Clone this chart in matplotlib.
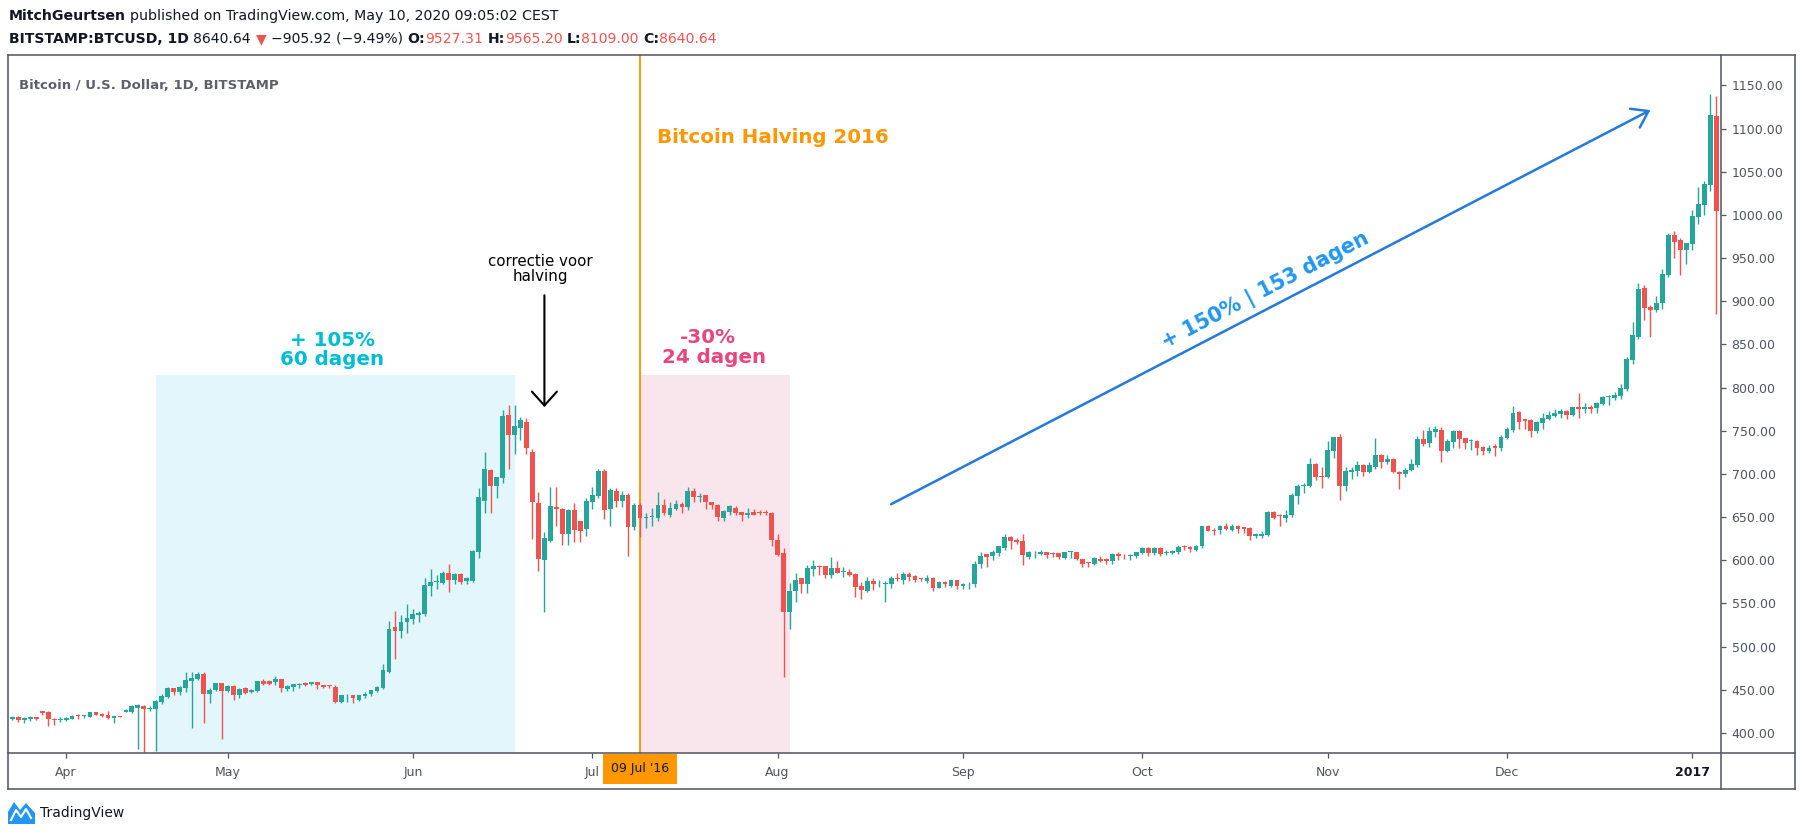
import numpy as np
import pandas as pd
import matplotlib
matplotlib.use('Agg')
import matplotlib.pyplot as plt
from matplotlib.lines import Line2D
from matplotlib.patches import Polygon

# [1] BTCUSD daily candles (Bitstamp), 26 Mar 2016 - 5 Jan 2017
start_date = '2016-03-26'

opens = [416, 418.5, 415.5, 416, 418.5, 425.5, 424.5, 416, 414.5, 415,
         416.5, 421, 419.5, 418.5, 424.5, 422.5, 421, 417.5, 419.5, 424.5,
         424.5, 429.5, 431.5, 428, 428, 436, 442, 452, 448, 452.5,
         460.5, 463, 468.5, 445.5, 450, 458, 448.5, 454.5, 444.5, 452,
         448, 448.5, 460, 460, 458.5, 462.5, 451.5, 453, 456, 458,
         456.5, 459, 455.5, 454.5, 453, 436, 443.5, 444, 438, 443,
         445, 449, 452.5, 471, 522.5, 518.5, 528, 532, 537, 538,
         570.5, 574.5, 574, 585.5, 577.5, 584, 576, 576.5, 610, 669,
         704.5, 685.5, 695.5, 768.5, 745, 753.5, 760, 725.5, 666, 600.5,
         622.5, 662, 660, 631, 658, 645.5, 636.5, 667.5, 675, 703.5,
         660, 680.5, 669, 675.5, 639, 664, 649, 650, 649.5, 664,
         652.5, 660, 665.5, 662, 680.5, 673, 675.5, 667.5, 664, 648.5,
         656.5, 660.5, 656, 652, 656, 655.5, 655, 655, 623.5, 608.5,
         540.5, 564.5, 579, 573, 590.5, 593.5, 593.5, 583.5, 591, 586.5,
         586.5, 584, 570, 564.5, 576, 572, 572, 573, 578.5, 577,
         584, 582, 578.5, 576, 580, 568.5, 575, 570, 577, 570.5,
         572, 572, 595.5, 607, 605, 608.5, 614, 627.5, 623.5, 622,
         604, 608, 607.5, 609.5, 607.5, 608.5, 603, 609.5, 609.5, 601.5,
         597, 596, 602, 602, 599.5, 607.5, 605, 604.5, 605, 608.5,
         614.5, 608.5, 614.5, 608.5, 608.5, 609.5, 615.5, 615.5, 612.5, 617,
         640, 635, 635.5, 640, 635.5, 640, 638.5, 637.5, 628.5, 628.5,
         629.5, 656, 651.5, 649.5, 652, 675, 685.5, 686, 711.5, 697,
         697, 727, 743, 685.5, 702.5, 703.5, 710.5, 702.5, 708, 722,
         714, 717.5, 702.5, 700, 704.5, 710.5, 740.5, 736, 748.5, 751,
         726.5, 737, 750, 741.5, 738, 738, 731, 726.5, 732.5, 730,
         741.5, 751, 772, 763.5, 762.5, 750, 759, 763.5, 767, 769.5,
         773, 768.5, 777.5, 775, 777.5, 776.5, 781, 789, 788, 790.5,
         798.5, 832, 858.5, 915.5, 893.5, 890, 898, 930.5, 977, 971,
         959.5, 966.5, 997.5, 1011.5, 1035, 1114.5]

highs = [420, 420, 418.5, 419.5, 419, 426, 425.5, 417.5, 418, 418.5,
         420.5, 421.5, 421, 424.5, 424.5, 423, 425.5, 420, 419.5, 427.5,
         432, 433.5, 432, 431, 438, 445, 453.5, 452.5, 454, 470.5,
         470.5, 470.5, 470.5, 452, 458, 458, 455, 455.5, 452, 453,
         451, 460.5, 462.5, 461, 466, 463, 455, 456.5, 458, 459,
         459, 459.5, 456, 455.5, 455, 444.5, 445, 444.5, 444.5, 447.5,
         450, 454, 479.5, 529.5, 541.5, 536.5, 549.5, 543.5, 541, 579.5,
         590, 583.5, 587.5, 596, 585.5, 585, 581, 612, 683.5, 725.5,
         705.5, 697, 774, 780, 780, 766, 765, 729, 679, 633,
         685, 685, 661, 659, 666.5, 645.5, 672.5, 685, 706, 706,
         683.5, 683.5, 680.5, 678, 666.5, 666.5, 655, 660.5, 679, 671,
         667, 670, 667.5, 685, 683.5, 677.5, 676, 668, 665, 658,
         664, 663, 656.5, 660.5, 659, 658, 658, 656, 630, 614,
         573.5, 585, 579.5, 595, 600.5, 594.5, 593.5, 603.5, 599, 592,
         590.5, 585, 575, 580.5, 579, 577, 576, 582, 585.5, 587,
         586.5, 582.5, 580, 583, 580.5, 575.5, 575.5, 577.5, 577.5, 573.5,
         575, 599, 609.5, 607.5, 612, 617, 630.5, 628, 626, 630.5,
         611, 610.5, 611.5, 610, 609.5, 609, 610, 611, 610, 602,
         598.5, 604, 605, 602.5, 609, 609.5, 607.5, 607, 610, 615.5,
         615, 615, 615, 612.5, 612, 618, 618, 616, 617.5, 640,
         640.5, 637, 640.5, 643, 641.5, 640.5, 639, 638, 631.5, 634,
         657, 657, 654, 658, 678, 688, 689, 718, 713, 707.5,
         738, 743, 746.5, 708, 708, 715, 711, 713.5, 741.5, 723,
         722, 718, 703.5, 707, 717.5, 744, 751, 754.5, 755.5, 754.5,
         741, 751, 751, 742, 740, 739, 732.5, 733.5, 734.5, 745,
         754.5, 778.5, 773, 764, 763.5, 761.5, 770.5, 773, 775, 775,
         774, 778, 794, 782, 780, 783.5, 790.5, 791.5, 795, 804.5,
         835.5, 876, 921.5, 919, 896, 906, 937.5, 979, 981.5, 973,
         968, 1006, 1032.5, 1039.5, 1140, 1138]

lows = [414.5, 413, 412, 414, 415.5, 421, 407.5, 409.5, 412.5, 414,
        416, 416.5, 417, 418, 420.5, 419, 416.5, 412, 419, 424,
        423, 381.5, 378, 425.5, 379.5, 434, 441, 443.5, 444.5, 447.5,
        406, 461, 411, 435, 449, 393.5, 447, 438.5, 440.5, 445.5,
        446.5, 448, 455.5, 456, 455.5, 448, 449, 449, 452.5, 454,
        455, 451.5, 452, 452.5, 435, 435, 436, 435, 437, 441,
        443, 447, 450.5, 469, 485.5, 510.5, 515.5, 526, 529, 535.5,
        559, 566.5, 572, 563.5, 572, 573, 572, 575, 603, 655,
        655, 672.5, 690, 706, 723, 739.5, 723, 625, 588, 540.5,
        621.5, 640, 618, 618, 621.5, 621.5, 628, 660, 672.5, 647.5,
        640, 662, 662, 605.5, 635.5, 626.5, 637, 640, 646, 652,
        650.5, 658, 655, 658.5, 667, 667, 660, 660, 645, 646,
        653, 653, 645, 649.5, 652, 653, 652.5, 616, 605, 465,
        521, 552, 562.5, 562.5, 582, 583, 580, 580, 585, 581,
        582, 557, 555.5, 563, 565.5, 569.5, 552, 568.5, 576, 573,
        576.5, 575, 576, 574, 564.5, 567.5, 569.5, 569, 567, 566.5,
        566.5, 569.5, 591.5, 592.5, 600.5, 605, 612, 613, 619, 594.5,
        601.5, 603, 606, 603, 604, 601.5, 602, 603, 600, 592.5,
        592.5, 594, 598.5, 596, 596, 600.5, 602, 600.5, 603, 607,
        605.5, 606.5, 605.5, 606.5, 607.5, 607, 612.5, 610, 611, 614.5,
        634, 629.5, 630.5, 635, 634, 632, 632, 624, 625.5, 626,
        628.5, 648, 640, 644, 650, 665.5, 677.5, 684.5, 692.5, 684,
        695, 718, 670, 680.5, 694, 698, 697.5, 701, 705.5, 707,
        711.5, 701, 682.5, 697, 703.5, 708.5, 732.5, 731, 743, 714,
        725, 730, 730, 729, 728, 722, 722, 724.5, 721, 726.5,
        740.5, 749, 752, 752, 743, 747.5, 752, 762, 766, 765,
        763.5, 767, 765, 770.5, 770.5, 770.5, 780, 780, 786, 787,
        796, 827.5, 856, 878.5, 859, 887.5, 891, 928, 950, 930.5,
        943.5, 960, 989.5, 1000, 1028, 885.5]

closes = [418.5, 415, 417, 418.5, 416, 423, 416.5, 414.5, 416.5, 417.5,
          420, 419.5, 420, 424.5, 421, 419.5, 417.5, 419.5, 419, 426.5,
          431.5, 432.5, 428, 428.5, 437.5, 443, 452, 448, 453.5, 461.5,
          463.5, 468.5, 445.5, 450, 458, 449, 454.5, 444.5, 451.5, 446.5,
          450, 460, 457, 457, 462.5, 452.5, 454.5, 456.5, 456.5, 455,
          459, 455, 453, 454, 436, 444, 444, 440, 444, 445,
          450, 453.5, 473, 520.5, 518.5, 528.5, 533, 538, 539.5, 571.5,
          575, 574.5, 585.5, 577.5, 584, 575, 579.5, 611, 673.5, 705.5,
          685.5, 696.5, 767, 745, 755.5, 762.5, 730.5, 668, 602, 625.5,
          663, 660, 631, 658, 635, 634.5, 668.5, 675.5, 703.5, 658.5,
          681, 669, 675.5, 639, 663.5, 648.5, 650, 650.5, 664, 655,
          660.5, 665.5, 662, 680.5, 673, 674.5, 667, 664, 650.5, 657,
          663, 655, 652, 655, 653, 655, 654.5, 624, 606, 540.5,
          564.5, 577, 573, 591, 593.5, 592.5, 583.5, 591, 585.5, 586.5,
          583, 569.5, 565.5, 576, 572, 572, 573.5, 579.5, 578, 584,
          581, 577, 578, 579.5, 568.5, 575, 572, 577, 570, 572.5,
          572.5, 595.5, 605, 604, 610, 616.5, 627.5, 622.5, 621, 606,
          609.5, 608.5, 610, 606.5, 607, 604, 609.5, 610, 601, 596,
          596.5, 602.5, 599.5, 599.5, 607.5, 604.5, 604.5, 606.5, 609.5, 614.5,
          609, 614.5, 607.5, 609.5, 611, 615.5, 615, 613, 616.5, 640,
          634.5, 634.5, 640, 636.5, 640, 636.5, 636.5, 628.5, 630.5, 630.5,
          656, 649.5, 651, 652.5, 675.5, 686, 687.5, 711.5, 697, 696.5,
          728, 743, 685.5, 703.5, 704.5, 710.5, 702.5, 710.5, 722, 714,
          717.5, 702.5, 700, 704.5, 711.5, 740.5, 734.5, 750, 752, 726.5,
          738, 750, 740.5, 736, 738, 730, 726.5, 730, 730, 743,
          752, 770.5, 760, 761.5, 750, 760, 765, 768.5, 770.5, 773,
          768.5, 777.5, 775, 777.5, 775, 782.5, 789, 789.5, 791.5, 799.5,
          833, 861, 914.5, 892.5, 890, 898, 931.5, 977, 969, 959.5,
          967.5, 999, 1013, 1036, 1116, 1004.5]

# [2] Axis labels
month_ticks = ['2016-04-04', '2016-05-01', '2016-06-01', '2016-07-01', '2016-08-01',
               '2016-09-01', '2016-10-01', '2016-11-01', '2016-12-01', '2017-01-01']
month_labels = ['Apr', 'May', 'Jun', 'Jul', 'Aug', 'Sep', 'Oct', 'Nov', 'Dec', '2017']
price_ticks = list(range(400, 1151, 50))

# [3] Drawings on the chart
halving_date = '2016-07-09'
rise_box = ('2016-04-19', '2016-06-18', 815)
drop_box = ('2016-07-09', '2016-08-03', 815)
trend_arrow = (('2016-08-20', 665), ('2016-12-25', 1121.5))

GREEN = '#26a69a'
RED = '#ef5350'
GREY = '#50535e'
DARK = '#131722'

W, H = 1805, 836
start = pd.Timestamp(start_date)


def day(d):
    return (pd.Timestamp(d) - start).days


def fx(px):
    return px / W


def fy(py):
    return 1 - py / H


fig = plt.figure(figsize=(W / 100, H / 100), dpi=100)
fig.patch.set_facecolor('white')
ax = fig.add_axes([fx(8), fy(753), (1721 - 8) / W, (753 - 55) / H])
ax.set_xlim(-0.72, 285.8)
ax.set_ylim(376.8, 1185.3)
for s in ax.spines.values():
    s.set_visible(False)

# shaded regions
for (d0, d1, top), col in [(rise_box, '#e3f6fb'), (drop_box, '#f8e6ec')]:
    ax.fill_between([day(d0), day(d1)], 376.8, top, color=col, lw=0, zorder=1)

ax.axvline(day(halving_date), color='#ff9800', lw=1.4, zorder=2)

# candles
o = np.array(opens)
h = np.array(highs)
l = np.array(lows)
c = np.array(closes)
x = np.arange(len(c))
cols = np.where(c >= o, GREEN, RED)
ax.vlines(x, l, h, colors=cols, linewidth=1.0, zorder=3)
ax.bar(x, np.maximum(np.abs(c - o), 1.0), bottom=np.minimum(o, c), width=0.8,
       color=cols, linewidth=0, zorder=4, antialiased=False)

# axes / ticks
ax.yaxis.tick_right()
ax.set_yticks(price_ticks)
ax.set_yticklabels(['%.2f' % v for v in price_ticks])
ax.set_xticks([day(d) for d in month_ticks])
ax.set_xticklabels(month_labels)
ax.tick_params(axis='both', direction='out', length=3.6, width=0.9, color=GREY,
               labelcolor=GREY, labelsize=9)
ax.tick_params(axis='y', pad=4)
ax.tick_params(axis='x', pad=5.5, labelsize=9)
ax.get_xticklabels()[-1].set_fontweight('bold')
ax.get_xticklabels()[-1].set_color(DARK)

ax.text(day(halving_date), -0.0229, "09 Jul '16", transform=ax.get_xaxis_transform(),
        ha='center', va='center', fontsize=9, color=DARK, zorder=10, clip_on=False,
        bbox=dict(boxstyle='square,pad=0.65', fc='#ff9800', ec='none'))

# annotations
ax.text(0.0065, 0.957, 'Bitcoin / U.S. Dollar, 1D, BITSTAMP', transform=ax.transAxes,
        fontsize=9.5, fontweight='bold', color='#5d606b', va='center', ha='left')

ax.text(day(halving_date) + 2.8, 1090, 'Bitcoin Halving 2016', color='#ff9800',
        fontsize=14.3, fontweight='bold', ha='left', va='center', zorder=6)

ax.text(53.5, 855, '+ 105%', color='#00bcd4', fontsize=14.3, fontweight='bold',
        ha='center', va='center', zorder=6)
ax.text(53.5, 832.5, '60 dagen', color='#00bcd4', fontsize=14.3, fontweight='bold',
        ha='center', va='center', zorder=6)
ax.text(116.3, 858.5, '-30%', color='#e8467c', fontsize=14.3, fontweight='bold',
        ha='center', va='center', zorder=6)
ax.text(117.4, 835, '24 dagen', color='#e8467c', fontsize=14.3, fontweight='bold',
        ha='center', va='center', zorder=6)

ax.text(88.3, 946.5, 'correctie voor', color='black', fontsize=10.8,
        ha='center', va='center', zorder=6)
ax.text(88.3, 929, 'halving', color='black', fontsize=10.8,
        ha='center', va='center', zorder=6)
ax.annotate('', xy=(89, 777.5), xytext=(89, 907),
            arrowprops=dict(arrowstyle='->,head_length=0.5,head_width=0.45',
                            color='black', lw=1.5, mutation_scale=20,
                            shrinkA=0, shrinkB=0), zorder=6)

(a0d, a0p), (a1d, a1p) = trend_arrow
ax.annotate('', xy=(day(a1d), a1p), xytext=(day(a0d), a0p),
            arrowprops=dict(arrowstyle='->,head_length=0.55,head_width=0.38',
                            color='#2479d9', lw=1.8, mutation_scale=20,
                            shrinkA=0, shrinkB=0), zorder=6)
p0 = ax.transData.transform((day(a0d), a0p))
p1 = ax.transData.transform((day(a1d), a1p))
ang = np.degrees(np.arctan2(p1[1] - p0[1], p1[0] - p0[0]))
ax.text(209.6, 912, '+ 150% | 153 dagen', color='#2196f3', fontsize=14.8,
        fontweight='bold', rotation=ang, rotation_mode='anchor',
        ha='center', va='center', zorder=6)

# pane frame
frame = [((8, 55), (1795, 55)), ((8, 789), (1795, 789)), ((8, 55), (8, 789)),
         ((1795, 55), (1795, 789)), ((1721, 55), (1721, 789)), ((8, 753), (1795, 753))]
for (x0, y0), (x1, y1) in frame:
    fig.add_artist(Line2D([fx(x0), fx(x1)], [fy(y0), fy(y1)], color=GREY, lw=1.1,
                          transform=fig.transFigure))

# header lines
renderer = fig.canvas.get_renderer()


def header(y_px, parts, size):
    xp = 9
    probe1 = fig.text(0, 0, 'x x', fontsize=size)
    probe2 = fig.text(0, 0, 'xx', fontsize=size)
    sp = probe1.get_window_extent(renderer).width - probe2.get_window_extent(renderer).width
    probe1.remove()
    probe2.remove()
    for txt, weight, color in parts:
        lead = len(txt) - len(txt.lstrip(' '))
        trail = len(txt) - len(txt.rstrip(' '))
        xp += lead * sp
        t = fig.text(fx(xp), fy(y_px), txt.strip(' '), fontsize=size, fontweight=weight,
                     color=color, ha='left', va='center')
        xp += t.get_window_extent(renderer).width + trail * sp


header(16, [('MitchGeurtsen', 'bold', DARK),
            (' published on TradingView.com, May 10, 2020 09:05:02 CEST', 'normal', DARK)], 10.2)
header(39, [('BITSTAMP:BTCUSD, 1D', 'bold', DARK), (' 8640.64 ', 'normal', DARK),
            ('▼', 'normal', RED), (' −905.92 (−9.49%) ', 'normal', DARK),
            ('O:', 'bold', DARK), ('9527.31', 'normal', RED),
            (' H:', 'bold', DARK), ('9565.20', 'normal', RED),
            (' L:', 'bold', DARK), ('8109.00', 'normal', RED),
            (' C:', 'bold', DARK), ('8640.64', 'normal', RED)], 10.1)

# TradingView logo
logo = [(8, 824), (8, 812), (14, 802), (20, 810), (26, 803), (35, 813), (35, 824)]
fig.add_artist(Polygon([(fx(a), fy(b)) for a, b in logo], closed=True, fc='#2196f3',
                       ec='none', transform=fig.transFigure))
fig.add_artist(Line2D([fx(11), fx(16), fx(21), fx(26), fx(31)],
                      [fy(820), fy(810), fy(817), fy(809), fy(818)], color='white',
                      lw=1.5, transform=fig.transFigure))
fig.text(fx(40), fy(813), 'TradingView', fontsize=10, color=DARK, ha='left', va='center')

fig.savefig('out.png', dpi=100)
